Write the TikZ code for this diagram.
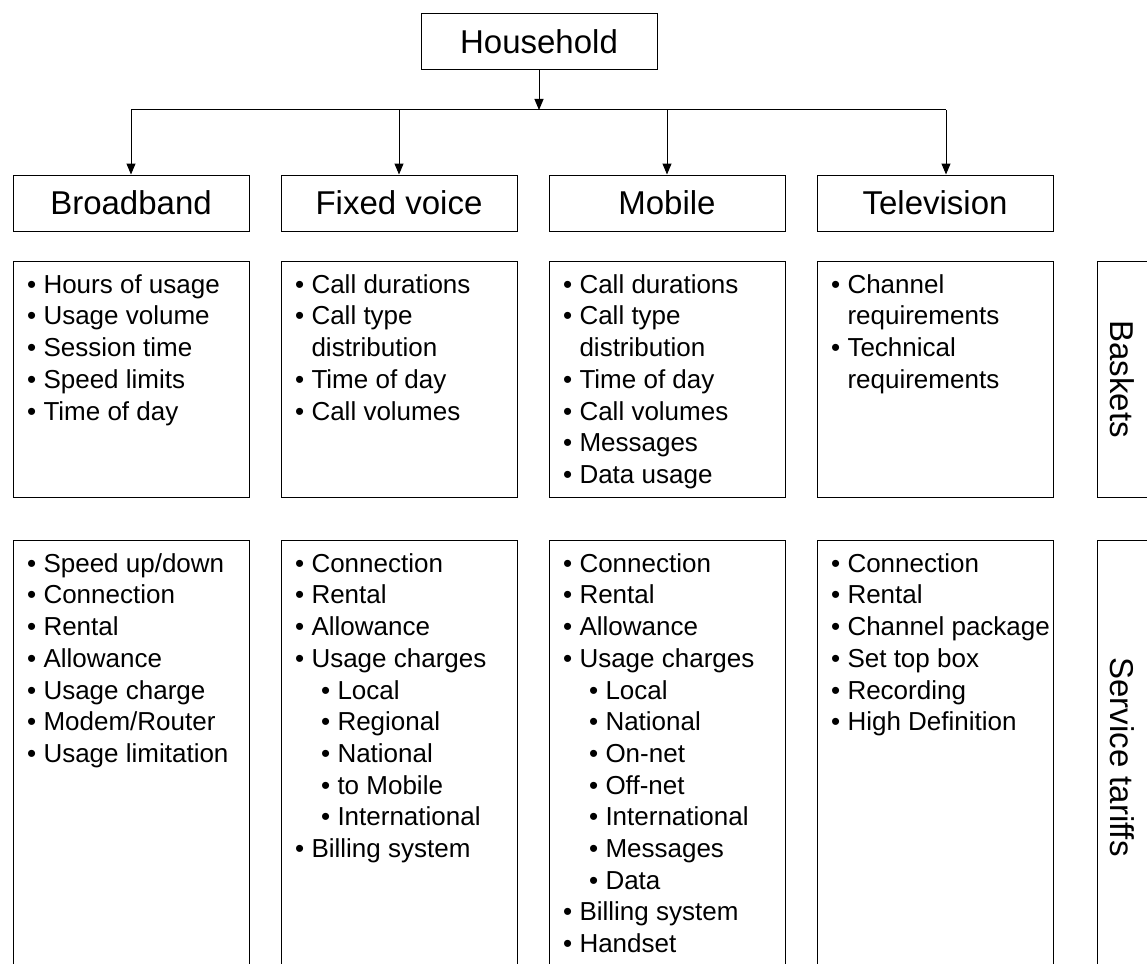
\documentclass[tikz,border=0pt]{standalone}
\usepackage{fontspec}
\setmainfont{Liberation Sans}
\usetikzlibrary{arrows.meta}
\tikzset{
  panel/.style={draw, line width=1pt, inner sep=0pt, minimum width=236pt, anchor=north west},
  head/.style={draw, line width=1pt, inner sep=0pt, minimum width=236pt, minimum height=56pt, font=\fontsize{33}{40}\selectfont},
  list/.style={anchor=north west, inner sep=0pt, align=left, font=\fontsize{26}{31.7}\selectfont},
  side/.style={rotate=-90, inner sep=0pt, font=\fontsize{33}{40}\selectfont},
  feed/.style={line width=1pt, -{Triangle[length=11pt,width=9pt]}}
}
\newcommand{\cont}{\phantom{• }}
\newcommand{\sub}{\hspace*{26pt}• }
\newcommand{\tall}{\rule{0pt}{20pt}}
\newcommand{\basket}[3]{\node[panel, minimum height=236pt] (#1) at (#2,261) {}; \node[list] (#1txt) at (#2+14,273) {\tall#3};}
\newcommand{\tariff}[3]{\node[panel, minimum height=435pt] (#1) at (#2,540) {}; \node[list] (#1txt) at (#2+14,552) {\tall#3};}
\begin{document}
\begin{tikzpicture}[x=1pt,y=-1pt]
    \useasboundingbox (0,0) rectangle (1147,963);
    \clip (0,0) rectangle (1147,963);
    % services
    \node[head] (house) at (539,42) {Household};
    \node[head] (bb) at (131,203) {Broadband};
    \node[head] (fv) at (399,203) {Fixed voice};
    \node[head] (mob) at (667,203) {Mobile};
    \node[head] (tv) at (935,203) {Television};
    \coordinate (bus) at (539,110);
    \coordinate (tvin) at ([xshift=11pt]tv.north);
    \draw[feed] (house) -- (bus);
    \draw[line width=1pt] (bb.north |- bus) -- (tvin |- bus);
    \draw[feed] (bb.north |- bus) -- (bb.north);
    \draw[feed] (fv.north |- bus) -- (fv.north);
    \draw[feed] (mob.north |- bus) -- (mob.north);
    \draw[feed] (tvin |- bus) -- (tvin);
    % baskets
    \basket{bbb}{13}{• Hours of usage\\• Usage volume\\• Session time\\• Speed limits\\• Time of day}
    \basket{fvb}{281}{• Call durations\\• Call type\\\cont distribution\\• Time of day\\• Call volumes}
    \basket{mobb}{549}{• Call durations\\• Call type\\\cont distribution\\• Time of day\\• Call volumes\\• Messages\\• Data usage}
    \basket{tvb}{817}{• Channel\\\cont requirements\\• Technical\\\cont requirements}
    % tariffs
    \tariff{bbt}{13}{• Speed up/down\\• Connection\\• Rental\\• Allowance\\• Usage charge\\• Modem/Router\\• Usage limitation}
    \tariff{fvt}{281}{• Connection\\• Rental\\• Allowance\\• Usage charges\\\sub Local\\\sub Regional\\\sub National\\\sub to Mobile\\\sub International\\• Billing system}
    \tariff{mobt}{549}{• Connection\\• Rental\\• Allowance\\• Usage charges\\\sub Local\\\sub National\\\sub On-net\\\sub Off-net\\\sub International\\\sub Messages\\\sub Data\\• Billing system\\• Handset}
    \tariff{tvt}{817}{• Connection\\• Rental\\• Channel package\\• Set top box\\• Recording\\• High Definition}
    % row labels
    \node[panel, minimum width=70pt, minimum height=236pt] (bkbox) at (1097,261) {};
    \node[side] (bklab) at (1122,379) {Baskets};
    \node[panel, minimum width=70pt, minimum height=435pt] (trbox) at (1097,540) {};
    \node[side] (trlab) at (1122,757) {Service tariffs};
\end{tikzpicture}
\end{document}
